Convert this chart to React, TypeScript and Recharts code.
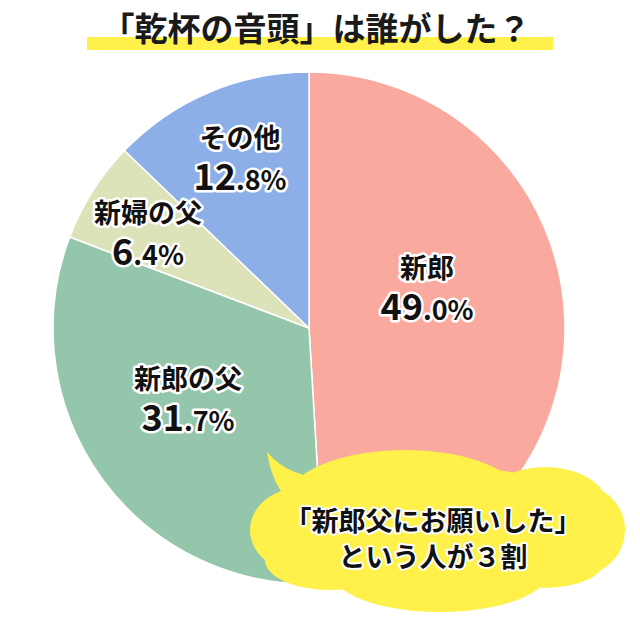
import React from 'react';
import { PieChart, Pie, Cell } from 'recharts';

const categories = ['新郎', '新郎の父', '新婦の父', 'その他'];
const values = [49.0, 31.7, 6.4, 12.8];
const colors = ['#F9A99E', '#94C6AC', '#DCE3B9', '#8CAFE8'];
const title = '「乾杯の音頭」は誰がした？';
const bubbleLines = ['「新郎父にお願いした」', 'という人が３割'];

const data = categories.map((name, i) => ({ name, value: values[i] }));

const FONT = '"Noto Sans CJK JP", "Noto Sans", sans-serif';

// label anchor positions (layout, not data)
const labelPos: Record<string, { x: number; y: number }> = {
  '新郎': { x: 427, y: 266 },
  '新郎の父': { x: 188, y: 377 },
  '新婦の父': { x: 148, y: 211 },
  'その他': { x: 240, y: 136 },
};

const outline = { stroke: '#fff', strokeWidth: 5, paintOrder: 'stroke' as const, strokeLinejoin: 'round' as const };

function Labels() {
  return (
    <g>
      {data.map((d) => {
        const p = labelPos[d.name];
        const s = d.value.toFixed(1);
        const [intPart, dec] = s.split('.');
        return (
          <g key={d.name}>
            <text x={p.x} y={p.y} textAnchor="middle" dominantBaseline="central" fontFamily={FONT}
              fontWeight={700} fontSize={27} fill="#111" {...outline}>{d.name}</text>
            <text x={p.x} y={p.y + 54} textAnchor="middle" fontFamily={FONT} fontWeight={700}
              fill="#111" {...outline}>
              <tspan fontSize={36}>{intPart}</tspan>
              <tspan fontSize={27}>{'.' + dec + '%'}</tspan>
            </text>
          </g>
        );
      })}
    </g>
  );
}

function Bubble() {
  const y = '#FFF04A';
  return (
    <g>
      <path d="M 292 505 Q 272 485 267 452 Q 292 482 345 478 Z" fill={y} />
      <ellipse cx={435} cy={528} rx={175} ry={62} fill={y} />
      <ellipse cx={405} cy={500} rx={118} ry={50} fill={y} />
      <ellipse cx={545} cy={505} rx={62} ry={38} fill={y} />
      <ellipse cx={580} cy={530} rx={45} ry={45} fill={y} />
      <ellipse cx={440} cy={570} rx={110} ry={42} fill={y} />
      <ellipse cx={330} cy={560} rx={65} ry={30} fill={y} />
      <ellipse cx={300} cy={530} rx={50} ry={42} fill={y} />
      <ellipse cx={545} cy={560} rx={60} ry={28} fill={y} />
      {bubbleLines.map((t, i) => (
        <text key={i} x={433} y={519 + i * 36} textAnchor="middle" dominantBaseline="central"
          fontFamily={FONT} fontWeight={700} fontSize={27} fill="#111" {...outline} strokeWidth={4}>{t}</text>
      ))}
    </g>
  );
}

function Title() {
  return (
    <g>
      <rect x={87} y={37} width={466} height={13} fill="#FFF04A" />
      <text x={316} y={27} textAnchor="middle" dominantBaseline="central" fontFamily={FONT}
        fontWeight={700} fontSize={33} fill="#1a1a1a">{title}</text>
    </g>
  );
}

export default function App() {
  return (
    <div style={{ position: 'absolute', left: 0, top: 0, width: 640, height: 625, background: '#fff' }}>
      <svg width={640} height={625} style={{ position: 'absolute', left: 0, top: 0 }}>
        <Title />
      </svg>
      <div style={{ position: 'absolute', left: 0, top: 0 }}>
        <PieChart width={640} height={625} margin={{ top: 0, right: 0, bottom: 0, left: 0 }}>
          <Pie data={data} dataKey="value" nameKey="name" cx={309} cy={328} outerRadius={256}
            startAngle={90} endAngle={-270} stroke="#fff" strokeWidth={1.5} isAnimationActive={false}>
            {data.map((d, i) => <Cell key={d.name} fill={colors[i]} />)}
          </Pie>
        </PieChart>
      </div>
      <svg width={640} height={625} style={{ position: 'absolute', left: 0, top: 0, pointerEvents: 'none' }}>
        <Labels />
        <Bubble />
      </svg>
    </div>
  );
}
